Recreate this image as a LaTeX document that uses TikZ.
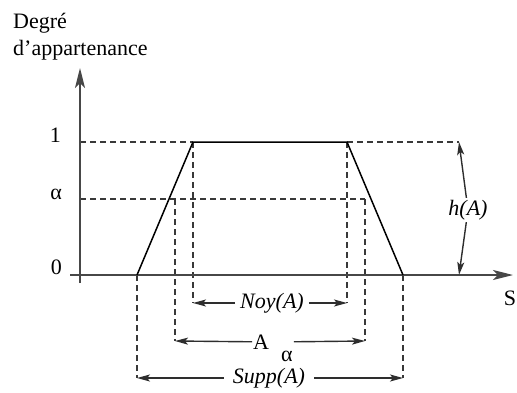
\documentclass[tikz,border=0pt]{standalone}
\usepackage{fontspec}
\setmainfont{Liberation Serif}
\usetikzlibrary{arrows.meta}

\begin{document}
\begin{tikzpicture}[
  x=1pt, y=-1pt,
  font=\fontsize{22}{26}\selectfont,
  axis/.style={-{Stealth[length=20pt,width=10pt,inset=5pt]}, line width=2.2pt, draw=black!72},
  curve/.style={line width=1.5pt, draw=black},
  guide/.style={dash pattern=on 6pt off 4pt, line width=1.4pt, draw=black!78},
  dim/.style={-{Stealth[length=13pt,width=7pt,inset=3pt]}, line width=1.4pt, draw=black!82},
  lbl/.style={inner sep=#1},
  lbl/.default=3pt
]
\useasboundingbox (0,0) rectangle (517,392);

% key points
\coordinate (org) at (80,275);
\coordinate (ybot) at (80,283);
\coordinate (ytop) at (80,68);
\coordinate (xbeg) at (70,275);
\coordinate (xend) at (513,275);
\coordinate (one) at (80,142);
\coordinate (alf) at (80,199);
\coordinate (sup0) at (137,275);
\coordinate (noy0) at (193,142);
\coordinate (noy1) at (347,142);
\coordinate (sup1) at (403,275);
\coordinate (cut0) at (175,199);
\coordinate (cut1) at (365,199);
\coordinate (htop) at (459,142);
\coordinate (hbot) at (459,275);

% ends of the dimension lines
\coordinate (noyL) at (193,303);
\coordinate (noyR) at (347,303);
\coordinate (cutL) at (175,341);
\coordinate (cutR) at (365,341);
\coordinate (supL) at (137,378);
\coordinate (supR) at (403,378);

% labels
\node[anchor=base west, inner sep=0pt] (tit1) at (13,28) {Degré};
\node[anchor=base west, inner sep=0pt] (tit2) at (13,55) {d’appartenance};
\node[anchor=base east, inner sep=0pt] (lone) at (61,142) {1};
\node[anchor=base east, inner sep=0pt] (lalf) at (62,199) {α};
\node[anchor=base east, inner sep=0pt] (lzer) at (62,274) {0};
\node[anchor=base, inner sep=0pt] (ls) at (510,305) {S};
\node[lbl=2pt] (lh) at (468,210) {\itshape h(A)};
\node[lbl=5pt] (lnoy) at (272,303) {\itshape Noy(A)};
\node[lbl=1pt] (lcut) at (273,342) {A\hspace{0.55em}\smash{\raisebox{-0.55em}{α}}};
\node[lbl=9pt] (lsup) at (269,378) {\itshape Supp(A)};

% guides
\draw[guide] (one) -- (noy0);
\draw[guide] (noy1) -- (htop);
\draw[guide] (alf) -- (cut1);
\draw[guide] (noy0) -- (noyL);
\draw[guide] (noy1) -- (noyR);
\draw[guide] (cut0) -- (cutL);
\draw[guide] (cut1) -- (cutR);
\draw[guide] (sup0) -- (supL);
\draw[guide] (sup1) -- (supR);

% axes
\draw[axis] (ybot) -- (ytop);
\draw[axis] (xbeg) -- (xend);

% membership function
\draw[curve] (sup0) -- (noy0) -- (noy1) -- (sup1);

% dimensions
\draw[dim] (lh) -- (htop);
\draw[dim] (lh) -- (hbot);
\draw[dim] (lnoy) -- (noyL);
\draw[dim] (lnoy) -- (noyR);
\draw[dim] (lcut) -- (cutL);
\draw[dim] (lcut) -- (cutR);
\draw[dim] (lsup) -- (supL);
\draw[dim] (lsup) -- (supR);

\end{tikzpicture}
\end{document}
